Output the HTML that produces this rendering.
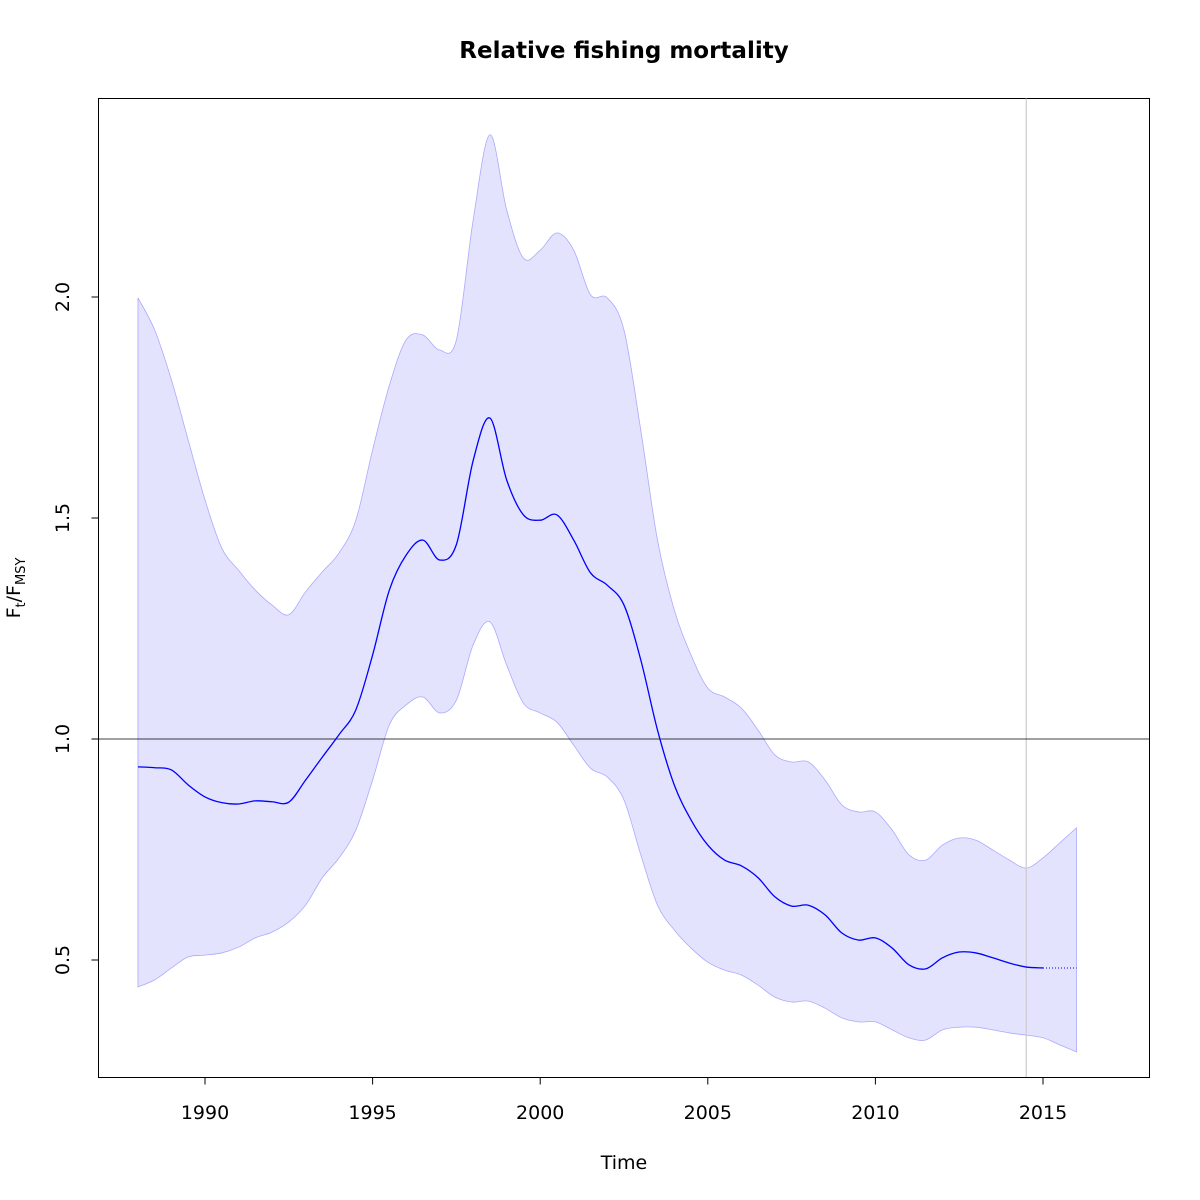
<!DOCTYPE html>
<html><head><meta charset="utf-8"><style>
html,body{margin:0;padding:0;background:#fff;}
svg{display:block;font-family:"DejaVu Sans","Liberation Sans",sans-serif;}
</style></head><body>
<svg id="chart" width="1200" height="1200" xmlns="http://www.w3.org/2000/svg">
<text x="624" y="58" text-anchor="middle" font-size="23" font-weight="bold">Relative fishing mortality</text>
<rect x="98.5" y="98.5" width="1051" height="979" fill="none" stroke="#000" stroke-width="1"/>
<g id="bands"></g>
<g id="xaxis"></g>
<g id="yaxis"></g>
<text x="624" y="1169" text-anchor="middle" font-size="19">Time</text>
<text transform="translate(20,588) rotate(-90)" text-anchor="middle" font-size="19">F<tspan font-size="13" dy="5">t</tspan><tspan dy="-5">/F</tspan><tspan font-size="13" dy="5">MSY</tspan></text>
</svg>
<script>
const years = [];
for (let i = 0; i <= 56; i++) years.push(1988 + i * 0.5);
const median = [0.937,0.935,0.93,0.896,0.869,0.856,0.853,0.86,0.858,0.857,0.907,0.959,1.01,1.066,1.19,1.337,1.416,1.45,1.405,1.44,1.63,1.726,1.586,1.507,1.495,1.507,1.45,1.376,1.348,1.303,1.179,1.02,0.896,0.817,0.76,0.726,0.713,0.686,0.643,0.622,0.624,0.602,0.561,0.545,0.55,0.527,0.489,0.48,0.505,0.518,0.516,0.505,0.493,0.484,0.482];
const upper = [1.998,1.925,1.812,1.676,1.541,1.432,1.382,1.337,1.303,1.281,1.333,1.378,1.421,1.495,1.654,1.80,1.903,1.914,1.88,1.903,2.174,2.367,2.197,2.088,2.106,2.145,2.106,2.005,1.998,1.925,1.699,1.45,1.292,1.19,1.115,1.095,1.07,1.02,0.964,0.948,0.948,0.907,0.851,0.835,0.835,0.794,0.738,0.726,0.76,0.776,0.771,0.749,0.726,0.708,0.731,0.765,0.799];
const lower = [0.439,0.455,0.482,0.507,0.511,0.516,0.529,0.55,0.563,0.586,0.624,0.686,0.731,0.794,0.907,1.032,1.077,1.095,1.059,1.088,1.213,1.265,1.167,1.081,1.059,1.038,0.986,0.934,0.914,0.862,0.738,0.624,0.568,0.527,0.495,0.477,0.466,0.443,0.416,0.405,0.407,0.391,0.369,0.36,0.36,0.342,0.324,0.319,0.342,0.348,0.348,0.342,0.335,0.33,0.324,0.308,0.292];
const forecastYears = [2015, 2016];
const forecastMedian = [0.482, 0.482];
const xTicks = [1990, 1995, 2000, 2005, 2010, 2015];
const yTicks = [0.5, 1.0, 1.5, 2.0];
const yTickLabels = ["0.5", "1.0", "1.5", "2.0"];
const refLevel = 1.0;
const lastObsYear = 2014.5;

const X = t => 205 + (t - 1990) * 33.52;
const Y = v => 739 - (v - 1) * 442;
const NS = "http://www.w3.org/2000/svg";
const svg = document.getElementById('chart');
const bands = document.getElementById('bands');
function mk(tag, attrs, parent) {
  const e = document.createElementNS(NS, tag);
  for (const k in attrs) e.setAttribute(k, attrs[k]);
  parent.appendChild(e); return e;
}
function smooth(pts) {
  let d = `M${pts[0][0]},${pts[0][1]}`;
  for (let i = 0; i < pts.length - 1; i++) {
    const p0 = pts[Math.max(0, i - 1)], p1 = pts[i], p2 = pts[i + 1], p3 = pts[Math.min(pts.length - 1, i + 2)];
    const c1 = [p1[0] + (p2[0] - p0[0]) / 6, p1[1] + (p2[1] - p0[1]) / 6];
    const c2 = [p2[0] - (p3[0] - p1[0]) / 6, p2[1] - (p3[1] - p1[1]) / 6];
    d += ` C${c1[0]},${c1[1]} ${c2[0]},${c2[1]} ${p2[0]},${p2[1]}`;
  }
  return d;
}
const up = upper.map((v, i) => [X(years[i]), Y(v)]);
const lo = lower.map((v, i) => [X(years[i]), Y(v)]).reverse();
const upD = smooth(up);
const loD = smooth(lo).replace(/^M/, 'L');
const band = mk('path', {d: upD + ' ' + loD + ' Z', fill: '#e3e3fe', stroke: '#aaaaff', 'stroke-width': 0.8}, bands);



const vl = mk('line', {x1: X(lastObsYear), x2: X(lastObsYear), y1: 98.5, y2: 1077.5, stroke: '#cccccc', 'stroke-width': 1.2}, bands);



const hl = mk('line', {x1: 98.5, x2: 1149.5, y1: Y(refLevel), y2: Y(refLevel), stroke: '#000', 'stroke-width': 0.8}, bands);



const med = mk('path', {d: smooth(median.map((v, i) => [X(years[i]), Y(v)])), fill: 'none', stroke: '#0000ff', 'stroke-width': 1.3}, bands);



const fc = mk('line', {x1: X(forecastYears[0]), x2: X(forecastYears[1]), y1: Y(forecastMedian[0]), y2: Y(forecastMedian[1]), stroke: '#0000ff', 'stroke-width': 1, 'stroke-dasharray': '1,2'}, bands);



const xa = document.getElementById('xaxis');
mk('line', {x1: X(xTicks[0]), x2: X(xTicks[xTicks.length - 1]), y1: 1077.5, y2: 1077.5, stroke: '#000'}, xa);
xTicks.forEach(t => {
  const tk = mk('line', {x1: X(t), x2: X(t), y1: 1077.5, y2: 1084.5, stroke: '#000'}, xa);
  
  
  const tx = mk('text', {x: X(t), y: 1119, 'text-anchor': 'middle', 'font-size': 19}, xa);
  tx.textContent = String(t);
  
  
});
const ya = document.getElementById('yaxis');
mk('line', {x1: 98.5, x2: 98.5, y1: Y(yTicks[0]), y2: Y(yTicks[yTicks.length - 1]), stroke: '#000'}, ya);
yTicks.forEach((v, i) => {
  const tk = mk('line', {x1: 91.5, x2: 98.5, y1: Y(v), y2: Y(v), stroke: '#000'}, ya);
  
  
  const tx = mk('text', {transform: `translate(69,${Y(v)}) rotate(-90)`, 'text-anchor': 'middle', 'font-size': 19}, ya);
  tx.textContent = yTickLabels[i];
  
  
});
</script>
</body></html>
